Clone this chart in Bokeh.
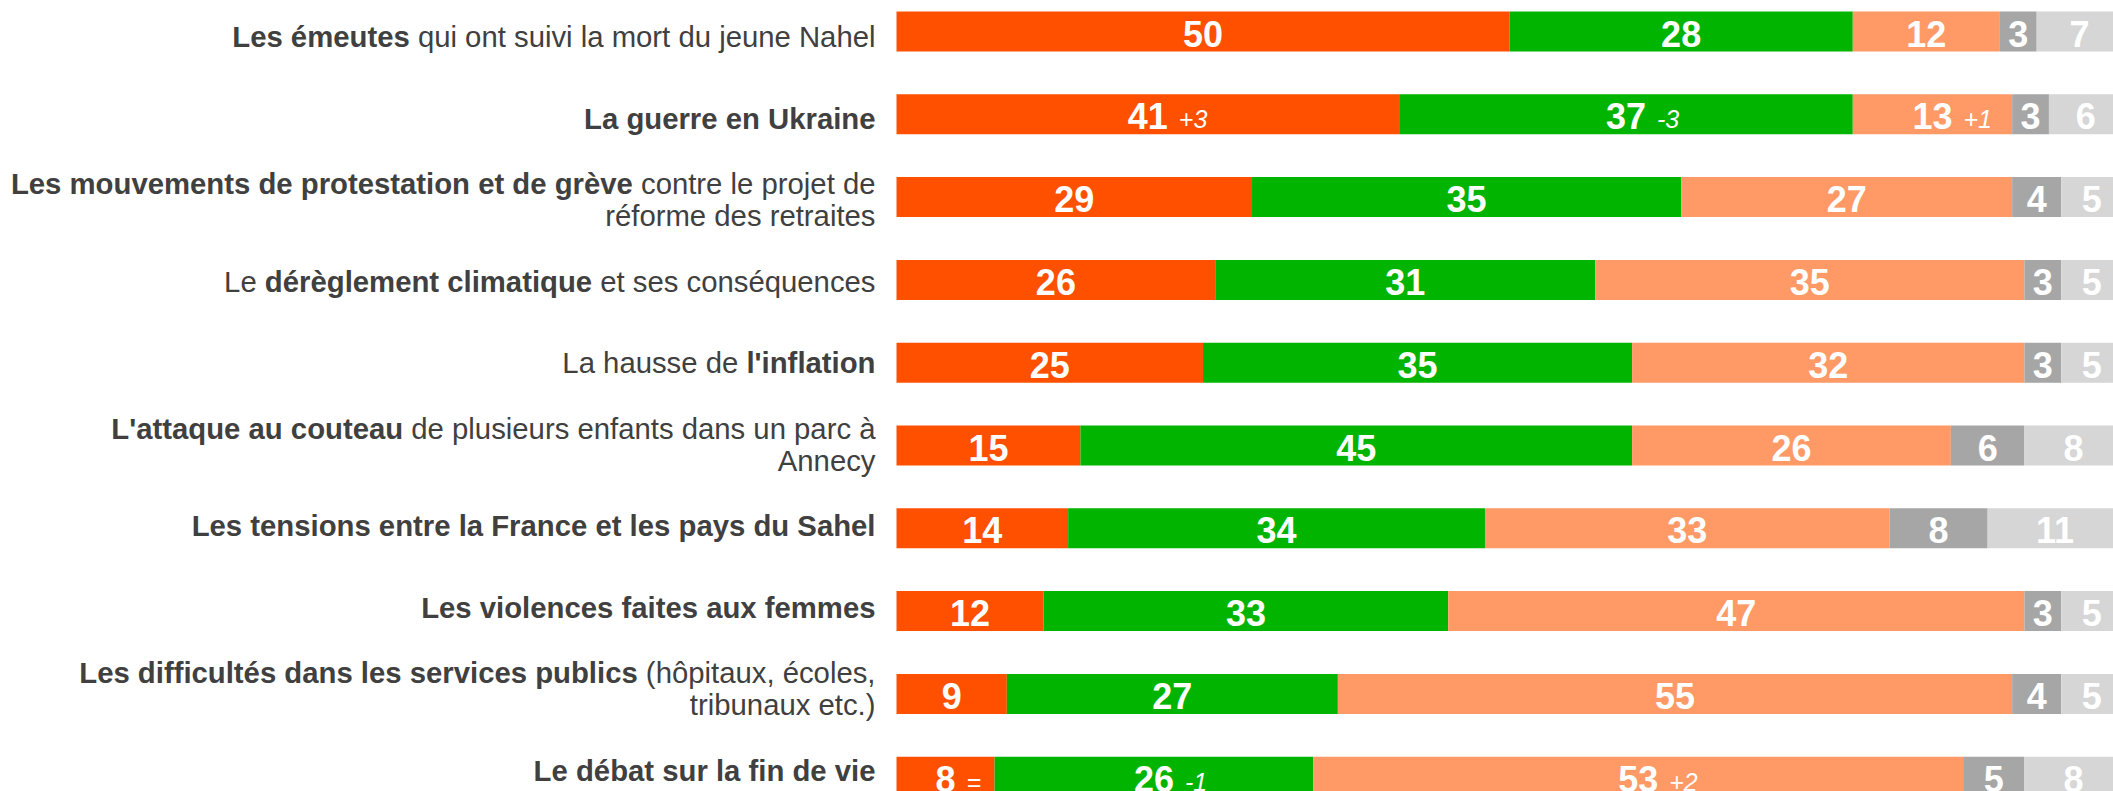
from bokeh.plotting import figure
from bokeh.models import ColumnDataSource, Range1d
from bokeh.embed import file_html
from bokeh.resources import INLINE
from bokeh.core.properties import value
import numpy as np

# ---------------- data ----------------
labels = [
    "**Les émeutes** qui ont suivi la mort du jeune Nahel",
    "**La guerre en Ukraine**",
    "**Les mouvements de protestation et de grève** contre le projet de\nréforme des retraites",
    "Le **dérèglement climatique** et ses conséquences",
    "La hausse de **l'inflation**",
    "**L'attaque au couteau** de plusieurs enfants dans un parc à\nAnnecy",
    "**Les tensions entre la France et les pays du Sahel**",
    "**Les violences faites aux femmes**",
    "**Les difficultés dans les services publics** (hôpitaux, écoles,\ntribunaux etc.)",
    "**Le débat sur la fin de vie**",
]
s1 = [50, 41, 29, 26, 25, 15, 14, 12, 9, 8]
s2 = [28, 37, 35, 31, 35, 45, 34, 33, 27, 26]
s3 = [12, 13, 27, 35, 32, 26, 33, 47, 55, 53]
s4 = [3, 3, 4, 3, 3, 6, 8, 3, 4, 5]
s5 = [7, 6, 5, 5, 5, 8, 11, 5, 5, 8]
d1 = ["", "+3", "", "", "", "", "", "", "", "="]
d2 = ["", "-3", "", "", "", "", "", "", "", "-1"]
d3 = ["", "+1", "", "", "", "", "", "", "", "+2"]
series = [s1, s2, s3, s4, s5]
deltas = [d1, d2, d3, None, None]
colors = ["#FF5000", "#00B400", "#FF9966", "#A6A6A6", "#D6D6D6"]

# ---------------- layout constants ----------------
W, H = 2113, 791
PX_PER_UNIT = 12.26
BAR_X0 = 896          # frame px of value 0
ROW0 = 31             # frame px of first bar centre
ROW_STEP = 82.8
BAR_H = 40
LABEL_ROW0 = 31       # frame px of first label centre
LABEL_STEP = 81.5     # labels are spaced slightly tighter than bars
LINE_H = 32
LABEL_FS = 29.3
NUM_FS = 36
DELTA_FS = 25
FONT = "Liberation Sans"
LABEL_RIGHT = 875

# Arial / Liberation Sans advance widths (1/1000 em)
REG = {' ': 278, '(': 333, ')': 333, ',': 278, '.': 278, "'": 191, 'à': 556, 'é': 556, 'è': 556, 'ô': 556}
BOLD = {' ': 278, '(': 333, ')': 333, ',': 278, '.': 278, "'": 238, 'à': 556, 'é': 556, 'è': 556, 'ô': 611}
for ch, w in zip("abcdefghijklmnopqrstuvwxyz",
                 [556, 556, 500, 556, 556, 278, 556, 556, 222, 222, 500, 222, 833, 556, 556, 556, 556, 333, 500, 278, 556, 500, 722, 500, 500, 500]):
    REG[ch] = w
for ch, w in zip("abcdefghijklmnopqrstuvwxyz",
                 [556, 611, 556, 611, 556, 333, 611, 611, 278, 278, 556, 278, 889, 611, 611, 611, 611, 389, 556, 333, 611, 556, 778, 556, 556, 500]):
    BOLD[ch] = w
upper = [667, 667, 722, 722, 667, 611, 778, 722, 278, 500, 667, 556, 833, 722, 778, 667, 778, 722, 667, 611, 722, 667, 944, 667, 667, 611]
for ch, w in zip("ABCDEFGHIJKLMNOPQRSTUVWXYZ", upper):
    REG[ch] = w
    BOLD[ch] = w
for ch, w in zip("ABJKL", [722, 722, 556, 722, 611]):
    BOLD[ch] = w


def tw(s, bold, fs):
    t = BOLD if bold else REG
    return sum(t.get(c, 556) for c in s) * fs / 1000.0


x0 = -BAR_X0 / PX_PER_UNIT
x1 = x0 + W / PX_PER_UNIT
ytop = -ROW0 / ROW_STEP
ybot = ytop + H / ROW_STEP

p = figure(width=W, height=H, output_backend="svg", toolbar_location=None,
           x_range=Range1d(x0, x1), y_range=Range1d(ybot, ytop),
           min_border=0, outline_line_color=None, background_fill_color="white")
p.axis.visible = False
p.grid.visible = False

rows = np.arange(len(labels))
left = np.zeros(len(labels))
for k, (vals, col) in enumerate(zip(series, colors)):
    vals = np.array(vals, dtype=float)
    right = left + vals
    src = ColumnDataSource(dict(y=rows, left=left, right=right))
    p.hbar(y="y", left="left", right="right", height=BAR_H / ROW_STEP, source=src,
           fill_color=col, line_color=None)
    cx = (left + right) / 2
    txt = [str(int(v)) for v in vals]
    p.text(x=cx, y=rows, text=txt, text_color="white", text_font=value(FONT),
           text_font_size=f"{NUM_FS}px", text_font_style="bold",
           text_align="center", text_baseline="middle", y_offset=2)
    if deltas[k] is not None:
        dx, dy, dt, doff = [], [], [], []
        for i, d in enumerate(deltas[k]):
            if d:
                dx.append(cx[i]); dy.append(rows[i]); dt.append(d)
                doff.append(tw(txt[i], True, NUM_FS) / 2 + 11)
        p.text(x=dx, y=dy, text=dt, x_offset=doff, text_color="white", text_font=value(FONT),
               text_font_size=f"{DELTA_FS}px", text_font_style="italic",
               text_align="left", text_baseline="middle", y_offset=5)
    left = right

# category labels with mixed bold / regular segments, right aligned
LAB_X = -(BAR_X0 - LABEL_RIGHT) / PX_PER_UNIT
parts = {True: dict(x=[], y=[], t=[], o=[]), False: dict(x=[], y=[], t=[], o=[])}
for i, lab in enumerate(labels):
    lines = lab.split("\n")
    n = len(lines)
    centre_px = LABEL_ROW0 + LABEL_STEP * i
    for j, line in enumerate(lines):
        ypx = centre_px + (j - (n - 1) / 2) * LINE_H
        yy = (ypx - ROW0) / ROW_STEP
        segs = line.split("**")
        segs = [(s, k % 2 == 1) for k, s in enumerate(segs) if s]
        off = 0.0
        for s, b in reversed(segs):
            core = s.rstrip(" ")
            trail = s[len(core):]
            off += tw(trail, b, LABEL_FS)
            core2 = core.lstrip(" ")
            lead = core[:len(core) - len(core2)]
            parts[b]["x"].append(LAB_X)
            parts[b]["y"].append(yy)
            parts[b]["t"].append(core2)
            parts[b]["o"].append(-off)
            off += tw(core2, b, LABEL_FS) + tw(lead, b, LABEL_FS)

for b in (True, False):
    d = parts[b]
    p.text(x=d["x"], y=d["y"], text=d["t"], x_offset=d["o"], text_color="#404040",
           text_font=value(FONT), text_font_size=f"{LABEL_FS}px",
           text_font_style="bold" if b else "normal",
           text_align="right", text_baseline="middle", y_offset=5)

open("out.html", "w").write(file_html(p, INLINE))
